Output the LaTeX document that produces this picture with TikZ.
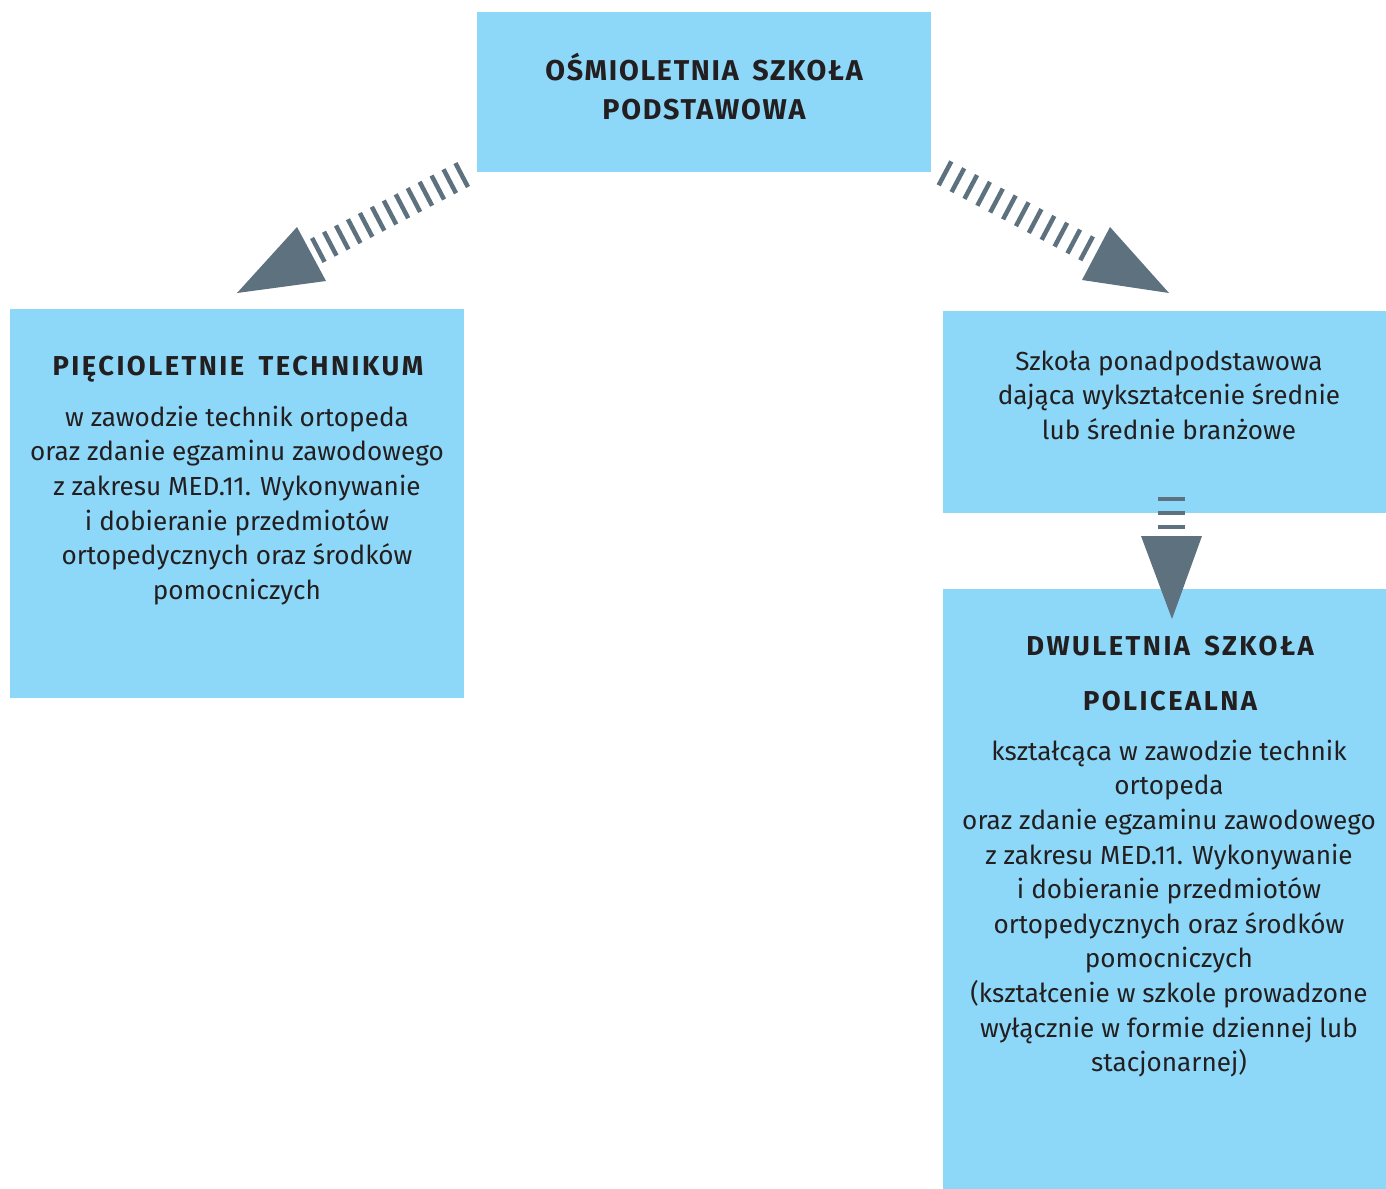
\documentclass[tikz,border=0pt]{standalone}
\usepackage{fontspec}
\setmainfont{Fira Sans}
\newfontfamily\headfont{Fira Sans}[LetterSpace=9,WordSpace=1.6]
\newfontfamily\topfont{Fira Sans}[LetterSpace=6,WordSpace=1.6]
\usetikzlibrary{fit}
\definecolor{boxblue}{HTML}{8DD8F8}
\definecolor{arrowgray}{HTML}{5E717F}
\definecolor{ink}{HTML}{231F20}
\begin{document}
\begin{tikzpicture}[x=0.75pt,y=-0.75pt,
  box/.style={fill=boxblue,draw=none,inner sep=0pt},
  headtext/.style={inner sep=0pt,align=center,text=ink,font=\headfont\bfseries\fontsize{20.5pt}{41.25pt}\selectfont},
  toptext/.style={inner sep=0pt,align=center,text=ink,font=\topfont\bfseries\fontsize{21.5pt}{29.25pt}\selectfont},
  bodytext/.style={inner sep=0pt,align=center,text=ink,font=\fontsize{19.6pt}{25.95pt}\selectfont},
  stripes/.style={draw=arrowgray,line width=20.25pt},
  headfill/.style={fill=arrowgray,draw=none}]
\useasboundingbox (0,0) rectangle (1386,1189);
% boxes
\node[box,fit={(477,12) (931,172)}] (top) {};
\node[box,fit={(10,309) (464,698)}] (left) {};
\node[box,fit={(943,311) (1386,513)}] (rtop) {};
\node[box,fit={(943,589) (1386,1189)}] (rbot) {};
% texts
\node[toptext,anchor=north] (toptxt) at (704,52.7) {\strut OŚMIOLETNIA SZKOŁA\\PODSTAWOWA};
\node[headtext,anchor=base] (lhead) at (238,375) {PIĘCIOLETNIE TECHNIKUM};
\node[bodytext,anchor=north] (lbody) at (237,401.8) {\strut w zawodzie technik ortopeda\\oraz zdanie egzaminu zawodowego\\z zakresu MED.11. Wykonywanie\\i dobieranie przedmiotów\\ortopedycznych oraz środków\\pomocniczych};
\node[bodytext,anchor=north] (rtoptxt) at (1169,345.8) {\strut Szkoła ponadpodstawowa\\dająca wykształcenie średnie\\lub średnie branżowe};
\node[headtext,anchor=north] (rhead) at (1170,616.5) {\strut DWULETNIA SZKOŁA\\POLICEALNA};
\node[bodytext,anchor=north] (rbody) at (1169,735.8) {\strut kształcąca w zawodzie technik\\ortopeda\\oraz zdanie egzaminu zawodowego\\z zakresu MED.11. Wykonywanie\\i dobieranie przedmiotów\\ortopedycznych oraz środków\\pomocniczych\\(kształcenie w szkole prowadzone\\wyłącznie w formie dziennej lub\\stacjonarnej)};
% left arrow
\coordinate (la1) at (463.7,174);
\coordinate (la2) at (316.3,251);
\draw[stripes,dash pattern=on 3.375pt off 6.735pt] (la1) -- (la2);
\coordinate (lt1) at (297,227);
\coordinate (lt2) at (326,281);
\coordinate (ltip) at (237,293);
\fill[headfill] (lt1) -- (lt2) -- (ltip) -- cycle;
% right arrow
\coordinate (ra1) at (943,172.3);
\coordinate (ra2) at (1088.7,249.4);
\draw[stripes,dash pattern=on 3.375pt off 7.55pt] (ra1) -- (ra2);
\coordinate (rt1) at (1110,227);
\coordinate (rt2) at (1082,280);
\coordinate (rtip) at (1169,293);
\fill[headfill] (rt1) -- (rt2) -- (rtip) -- cycle;
% down arrow
\coordinate (da1) at (1171.5,496.8);
\coordinate (da2) at (1171.5,529.2);
\draw[draw=arrowgray,line width=20.25pt,dash pattern=on 3.2pt off 7.3pt] (da1) -- (da2);
\coordinate (dt1) at (1141,536);
\coordinate (dt2) at (1202,536);
\coordinate (dtip) at (1172,619);
\fill[headfill] (dt1) -- (dt2) -- (dtip) -- cycle;
\end{tikzpicture}
\end{document}
